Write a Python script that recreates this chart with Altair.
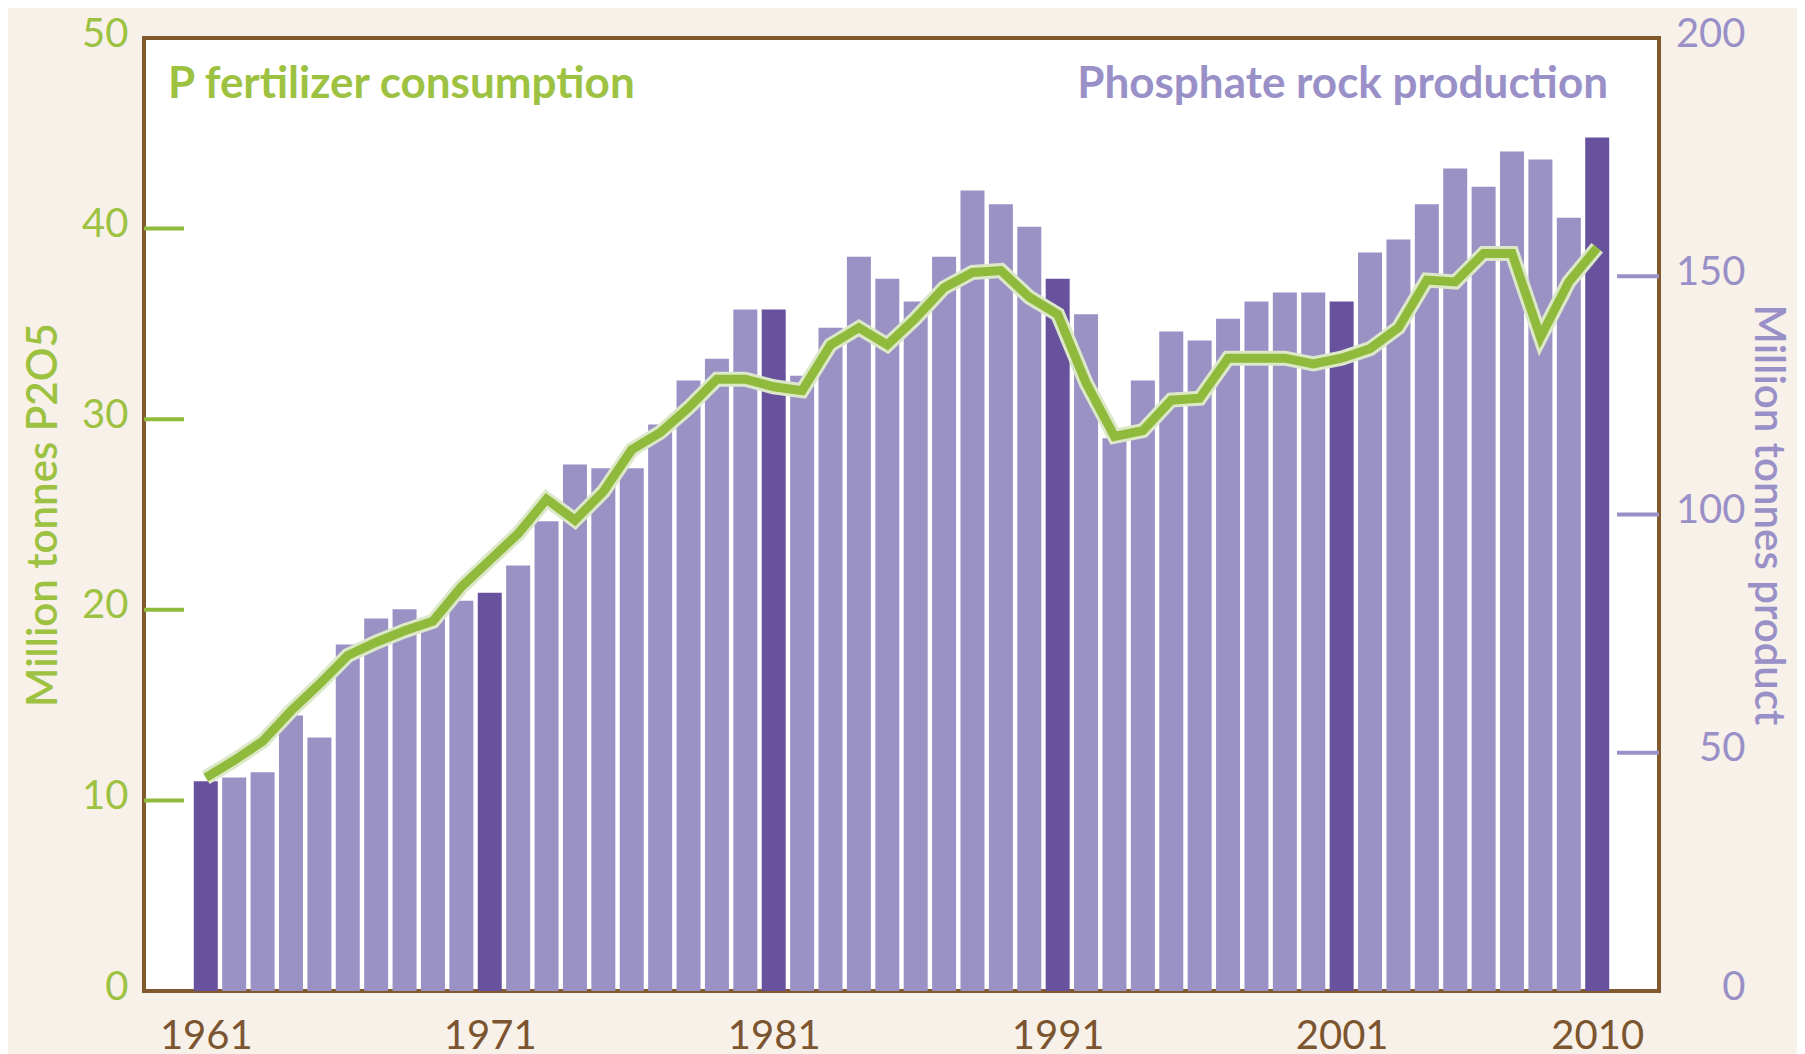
import altair as alt
import pandas as pd

# ---------------- data ----------------
years = list(range(1961, 2011))
rock_production = [44.0, 44.8, 45.9, 57.8, 53.2, 72.7, 78.2, 80.1, 78.5, 81.9,
                   83.6, 89.3, 98.6, 110.5, 109.7, 109.7, 118.9, 128.1, 132.7, 143.0,
                   143.0, 129.1, 139.2, 154.1, 149.5, 144.7, 154.1, 168.0, 165.1, 160.4,
                   149.5, 142.0, 116.0, 128.1, 138.4, 136.5, 141.1, 144.7, 146.6, 146.6,
                   144.7, 155.0, 157.7, 165.1, 172.6, 168.8, 176.2, 174.5, 162.3, 179.1]
fert_consumption = [11.2, 12.1, 13.1, 14.7, 16.1, 17.6, 18.3, 18.9, 19.4, 21.2,
                    22.6, 24.0, 25.8, 24.7, 26.2, 28.4, 29.3, 30.6, 32.1, 32.1,
                    31.7, 31.5, 33.9, 34.8, 33.9, 35.3, 36.9, 37.7, 37.8, 36.4,
                    35.5, 31.9, 29.1, 29.4, 31.0, 31.1, 33.2, 33.2, 33.2, 32.9,
                    33.2, 33.7, 34.8, 37.3, 37.2, 38.7, 38.7, 34.3, 37.2, 39.0]
highlight_years = [1961, 1971, 1981, 1991, 2001, 2010]
x_tick_labels = [1961, 1971, 1981, 1991, 2001, 2010]
left_axis_values = [0, 10, 20, 30, 40, 50]
right_axis_values = [0, 50, 100, 150, 200]
left_tick_values = [10, 20, 30, 40]
right_tick_values = [50, 100, 150]
left_label = "P fertilizer consumption"
right_label = "Phosphate rock production"
left_title = "Million tonnes P2O5"
right_title = "Million tonnes product"

df = pd.DataFrame({
    "year": years,
    "rock": rock_production,
    "fert": fert_consumption,
    "shade": ["dark" if y in highlight_years else "light" for y in years],
})
left_ticks_df = pd.DataFrame({"fert": left_tick_values})
right_ticks_df = pd.DataFrame({"rock": right_tick_values})

# ---------------- style ----------------
W, H = 1515, 953
FONT = "Lato"
BG = "#f8f1e9"
FRAME = "#80592d"
LIGHT = "#9a91c5"
DARK = "#68529d"
GREEN = "#8fba3c"
HALO = "#dce8c8"
GREEN_TXT = "#9dc241"
PURPLE_TXT = "#9a90c8"
BROWN_TXT = "#7b5530"
FS = 40

x_enc = alt.X(
    "year:Q",
    scale=alt.Scale(domain=[1959, 2012], nice=False, zero=False),
    axis=alt.Axis(values=x_tick_labels, format="d", ticks=False, tickSize=0,
                  domain=False, grid=False, labelColor=BROWN_TXT, labelFont=FONT,
                  labelFontSize=FS, labelPadding=25, labelFlush=False, title=None),
    title=None,
)

right_y = alt.Y(
    "rock:Q",
    scale=alt.Scale(domain=[0, 200], nice=False, zero=True),
    axis=alt.Axis(orient="right", values=right_axis_values, ticks=False, tickSize=0,
                  domain=False, grid=False, labelColor=PURPLE_TXT, labelFont=FONT,
                  labelFontSize=FS, labelAlign="right", labelBaseline="middle",
                  labelPadding=86, labelOffset=-4,
                  title=right_title, titleColor=PURPLE_TXT, titleFont=FONT,
                  titleFontSize=42, titleFontWeight=600, titleAngle=90,
                  titleX=108, titleY=H / 2, titleAlign="center", titleBaseline="middle"),
)

left_y = alt.Y(
    "fert:Q",
    scale=alt.Scale(domain=[0, 50], nice=False, zero=True),
    axis=alt.Axis(orient="left", values=left_axis_values, ticks=False, tickSize=0,
                  domain=False, grid=False, labelColor=GREEN_TXT, labelFont=FONT,
                  labelFontSize=FS, labelAlign="right", labelBaseline="middle",
                  labelPadding=16, labelOffset=-4,
                  title=left_title, titleColor=GREEN_TXT, titleFont=FONT,
                  titleFontSize=42, titleFontWeight=600, titleAngle=-90,
                  titleX=-101, titleY=H / 2, titleAlign="center", titleBaseline="middle"),
)

bars = alt.Chart(df).mark_bar(size=24).encode(
    x=x_enc,
    y=right_y,
    color=alt.Color("shade:N", scale=alt.Scale(domain=["light", "dark"], range=[LIGHT, DARK]),
                    legend=None),
)
right_ticks = alt.Chart(right_ticks_df).mark_rule(color=PURPLE_TXT, strokeWidth=4).encode(
    x=alt.value(W - 42), x2=alt.value(W), y=right_y,
)

halo = alt.Chart(df).mark_line(color=HALO, strokeWidth=15).encode(x=x_enc, y=left_y)
line = alt.Chart(df).mark_line(color=GREEN, strokeWidth=9).encode(x=x_enc, y=left_y)
left_ticks = alt.Chart(left_ticks_df).mark_rule(color=GREEN, strokeWidth=4).encode(
    x=alt.value(0), x2=alt.value(40), y=left_y,
)

txt_left = alt.Chart(pd.DataFrame({"t": [left_label]})).mark_text(
    align="left", baseline="alphabetic", font=FONT, fontSize=44, fontWeight="bold",
    color=GREEN_TXT
).encode(x=alt.value(24), y=alt.value(60), text="t:N")
txt_right = alt.Chart(pd.DataFrame({"t": [right_label]})).mark_text(
    align="right", baseline="alphabetic", font=FONT, fontSize=44, fontWeight="bold",
    color=PURPLE_TXT
).encode(x=alt.value(1464), y=alt.value(60), text="t:N")

right_group = alt.layer(bars, right_ticks)
left_group = alt.layer(halo, line, left_ticks)

chart = alt.layer(right_group, left_group, txt_left, txt_right).resolve_scale(
    y="independent", color="independent"
).properties(
    width=W, height=H,
    autosize=alt.AutoSizeParams(type="none"),
    padding={"left": 136, "top": 30, "right": 138, "bottom": 72},
    background=BG,
).configure_view(stroke=FRAME, strokeWidth=4, fill="white")

chart.save("out.html", embed_options={"renderer": "svg", "actions": False})
